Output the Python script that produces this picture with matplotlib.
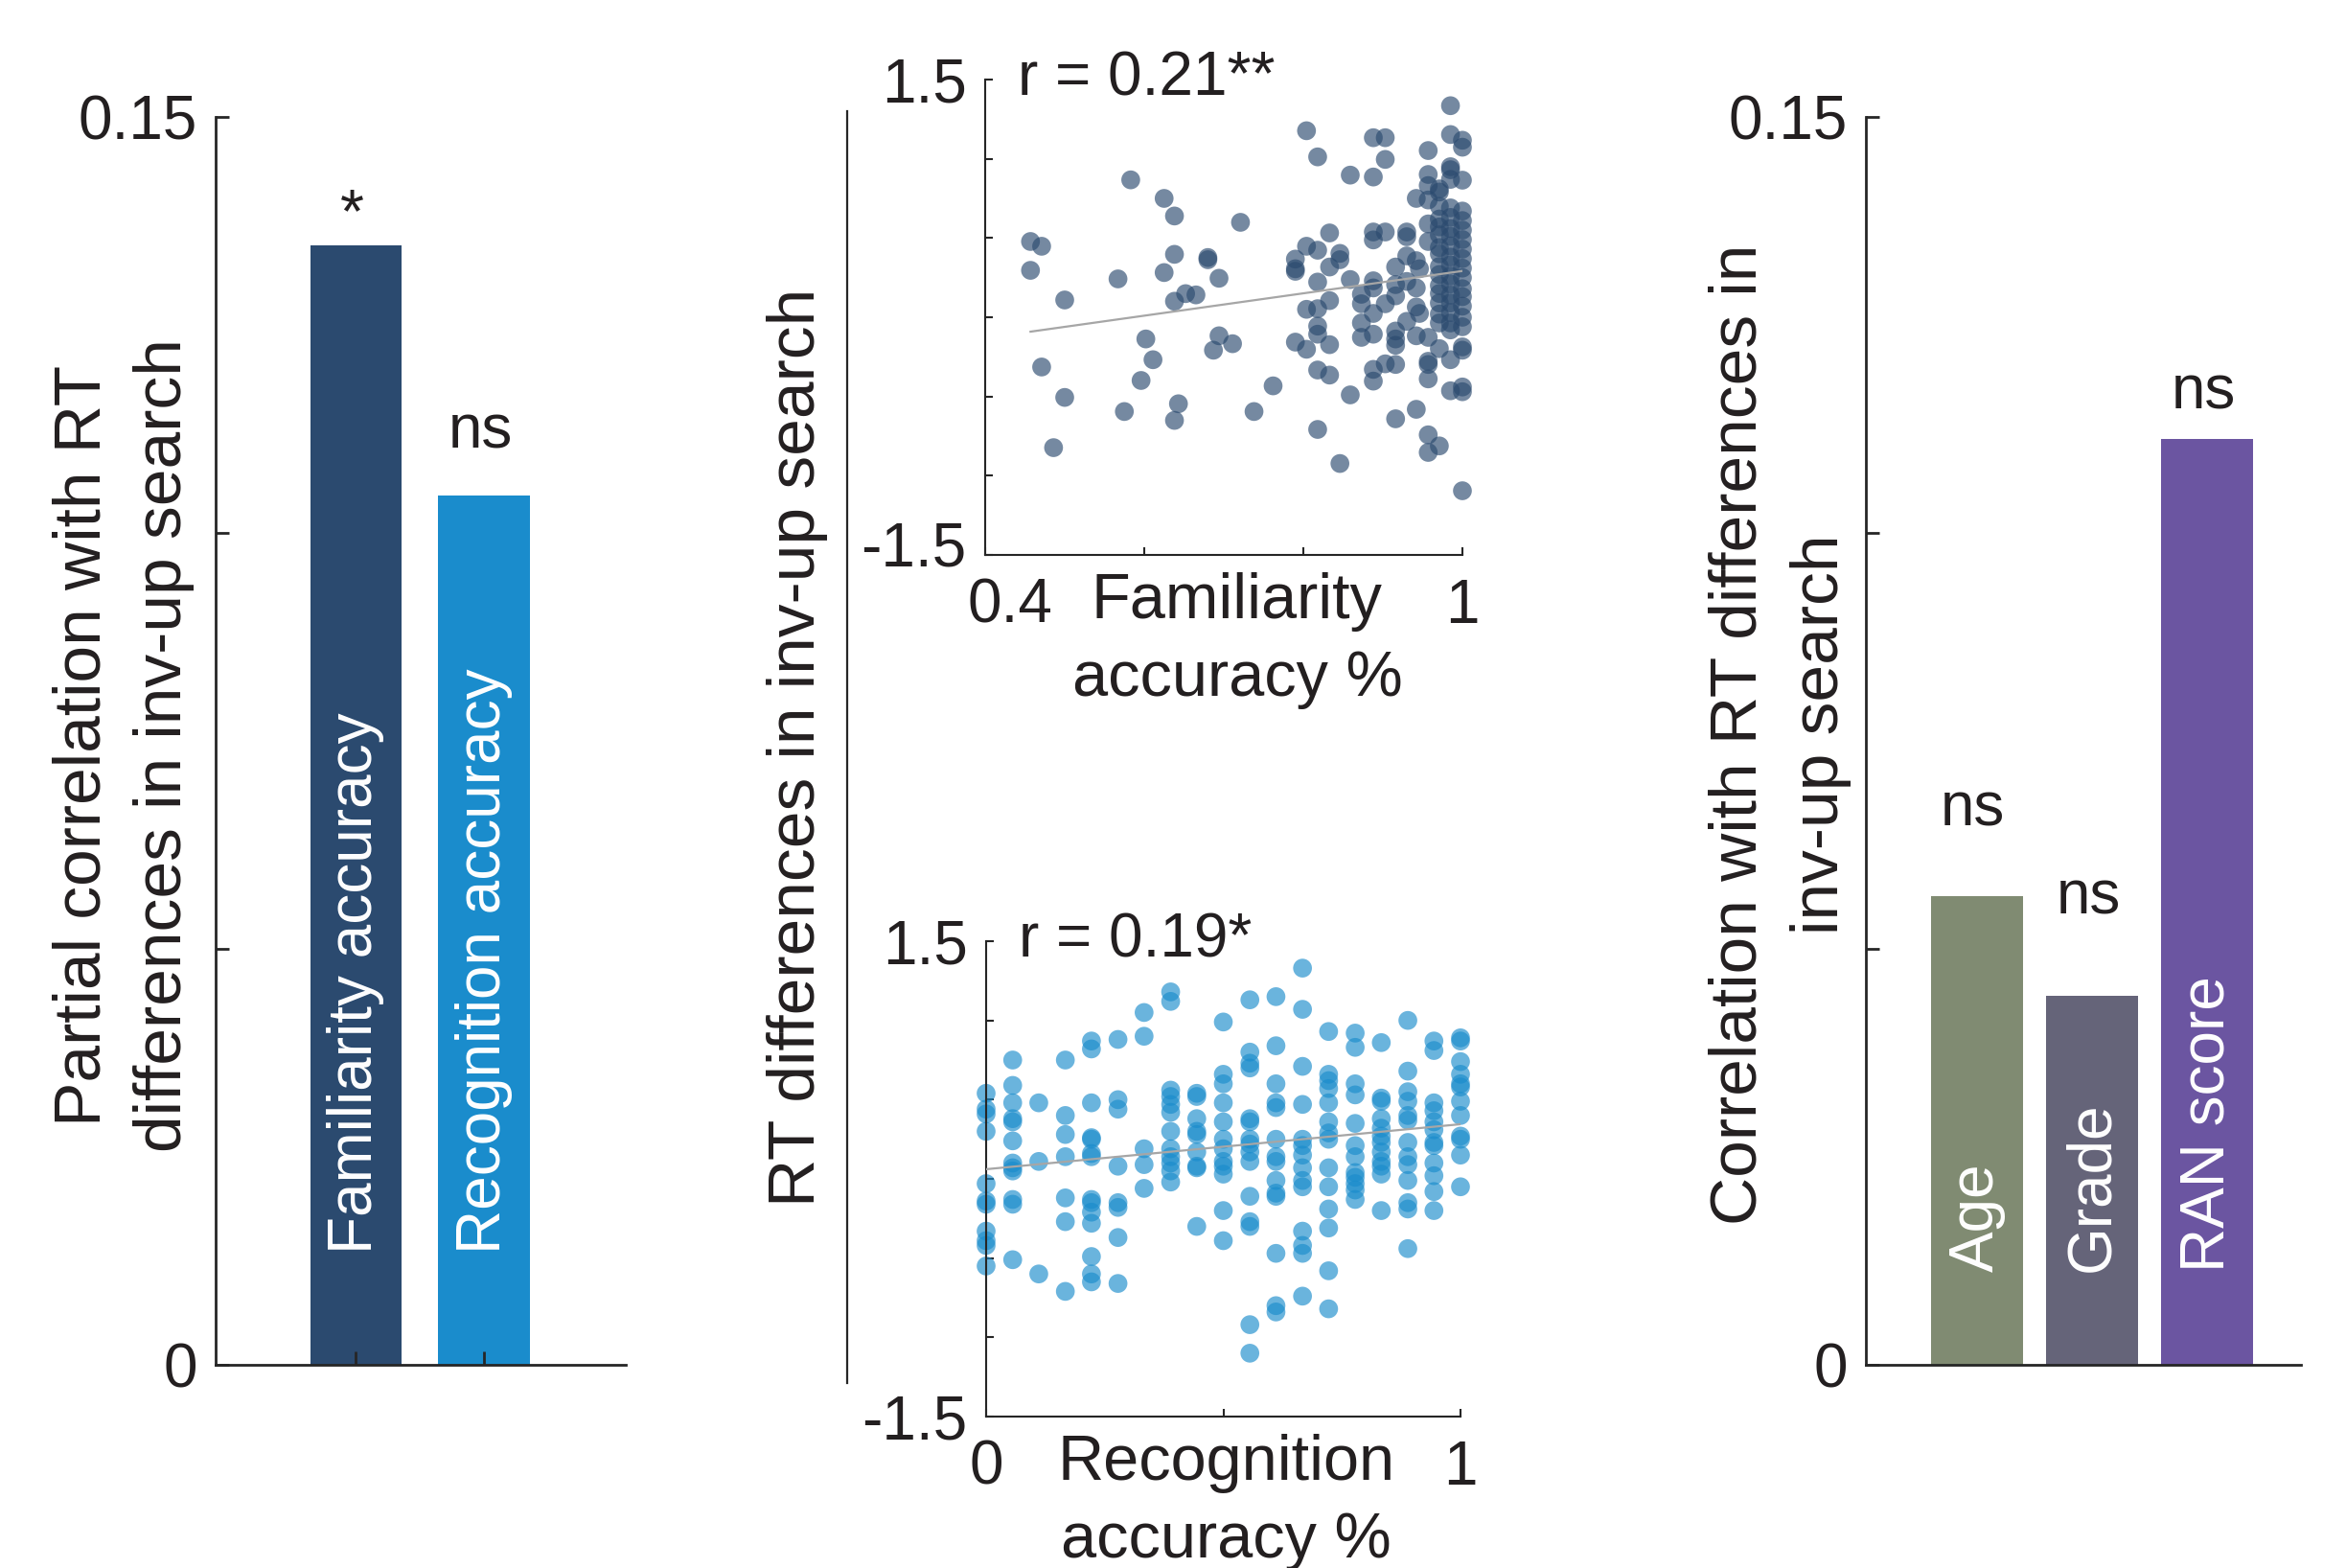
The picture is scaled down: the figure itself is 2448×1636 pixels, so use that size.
import numpy as np
import matplotlib.pyplot as plt
from matplotlib.transforms import ScaledTranslation

plt.rcParams['font.family'] = ['Liberation Sans', 'DejaVu Sans']
plt.rcParams['text.color'] = '#231f20'

# bar panels
acc_labels = ['Familiarity accuracy', 'Recognition accuracy']
acc_values = [0.1346, 0.1045]
acc_sig = ['*', 'ns']
acc_colors = ['#2b4a6f', '#1a8ccc']

demo_labels = ['Age', 'Grade', 'RAN score']
demo_values = [0.0563, 0.0444, 0.1113]
demo_sig = ['ns', 'ns', 'ns']
demo_colors = ['#808b72', '#656479', '#6b55a1']

# familiarity accuracy vs RT difference
fam_x = [0.457, 0.471, 0.457, 0.500, 0.471, 0.500, 0.486, 0.583, 0.625, 0.638,
         0.721, 0.638, 0.680, 0.680, 0.625, 0.567, 0.694, 0.652, 0.665, 0.638,
         0.602, 0.694, 0.711, 0.687, 0.611, 0.596, 0.643, 0.575, 0.638, 0.738,
         0.762,
         0.804, 0.818, 0.859, 0.833, 0.804, 0.818, 0.790, 0.790, 0.790, 0.846,
         0.846, 0.833, 0.818, 0.859, 0.804, 0.818, 0.833, 0.818, 0.818, 0.790,
         0.804, 0.833, 0.818, 0.833, 0.859, 0.818, 0.846,
         0.888, 0.903, 0.903, 0.888, 0.888, 0.888, 0.903, 0.930, 0.930, 0.957,
         0.957, 0.985, 0.985, 1.000, 1.000, 0.985, 1.000, 0.942, 0.957, 0.957,
         0.971, 0.957, 0.957, 0.916, 0.930, 0.942, 0.946, 0.888, 0.888, 0.873,
         0.873, 0.903, 0.916, 0.916, 0.930, 0.942, 0.942, 0.946, 0.930, 0.888,
         0.873, 0.873, 0.888, 0.916, 0.916, 0.916, 0.942, 0.957, 0.971, 0.985,
         0.957, 0.957, 0.957, 0.903, 0.916, 0.888, 0.888, 0.916, 0.942, 0.957,
         0.971, 0.957, 0.985, 1.000, 1.000, 1.000, 1.000, 1.000, 0.985, 0.971,
         0.971, 0.971, 0.971, 0.971, 0.971, 0.971, 0.971, 0.971, 0.971, 0.971,
         0.971, 0.971, 0.971,
         0.985, 0.985, 0.985, 0.985, 0.985, 0.985, 0.985, 0.985, 0.985, 0.985,
         0.985, 0.985, 0.985, 0.985, 0.985,
         1.000, 1.000, 1.000, 1.000, 1.000, 1.000, 1.000, 1.000, 1.000, 1.000,
         1.000, 1.000, 1.000]
fam_y = [0.478, 0.448, 0.296, 0.109, -0.314, -0.506, -0.823, 0.867, 0.750, 0.639,
         0.599, 0.397, 0.377, 0.363, 0.282, 0.242, 0.246, 0.149, 0.141, 0.101,
         -0.137, -0.117, -0.167, -0.208, -0.268, -0.399, -0.546, -0.595, -0.651, -0.595,
         -0.433,
         1.177, 1.012, 0.897, 0.532, 0.448, 0.423, 0.367, 0.306, 0.290, 0.403,
         0.363, 0.317, 0.222, 0.238, 0.050, 0.054, 0.105, -0.056, -0.107, -0.157,
         -0.202, -0.173, -0.333, -0.365, -0.490, -0.708, -0.923,
         1.133, 1.133, 0.996, 0.885, 0.538, 0.488, 0.538, 0.538, 0.508, 1.052,
         0.901, 1.335, 1.153, 1.117, 1.073, 0.931, 0.865, 0.750, 0.831, 0.740,
         0.810, 0.589, 0.478, 0.317, 0.387, 0.357, 0.306, 0.230, 0.185, 0.145,
         0.085, 0.085, 0.135, 0.206, 0.226, 0.185, 0.065, 0.024, -0.026, 0.024,
         -0.036, -0.127, -0.107, -0.087, -0.137, -0.177, -0.117, -0.127, -0.198, -0.268,
         -0.278, -0.298, -0.389, -0.294, -0.298, -0.329, -0.403, -0.641, -0.581, -0.742,
         -0.812, -0.853, -0.464, -0.440, -0.470, -1.095, -0.187, -0.208, -0.036, -0.036,
         0.79, 0.70, 0.62, 0.57, 0.52, 0.44, 0.40, 0.32, 0.27, 0.20,
         0.15, 0.09, 0.02,
         0.95, 0.87, 0.69, 0.63, 0.56, 0.51, 0.45, 0.38, 0.33, 0.26,
         0.21, 0.14, 0.09, 0.03, -0.08,
         0.67, 0.61, 0.55, 0.49, 0.43, 0.37, 0.31, 0.25, 0.18, 0.13,
         0.07, 0.00, -0.06]
fam_fit_x = [0.457, 1.0]
fam_fit_y = [-0.091, 0.292]

# recognition accuracy vs RT difference (discrete accuracy levels)
rec_levels = [0.000, 0.056, 0.111, 0.167, 0.222, 0.278, 0.333, 0.389, 0.444, 0.500,
              0.556, 0.611, 0.667, 0.722, 0.778, 0.833, 0.889, 0.944, 1.000]
rec_y_by_level = [
    [0.54, 0.44, 0.41, 0.30, -0.03, -0.14, -0.16, -0.33, -0.39, -0.42, -0.55],
    [0.75, 0.59, 0.48, 0.38, 0.36, 0.24, 0.10, 0.07, 0.05, -0.13, -0.16, -0.51],
    [0.48, 0.11, -0.60],
    [0.75, 0.40, 0.28, 0.14, -0.12, -0.27, -0.71],
    [0.87, 0.82, 0.48, 0.26, 0.25, 0.16, 0.14, -0.13, -0.15, -0.21, -0.28, -0.49, -0.60, -0.65],
    [0.88, 0.50, 0.44, 0.08, -0.15, -0.18, -0.37, -0.66],
    [1.05, 0.90, 0.19, 0.09, -0.06],
    [1.18, 1.12, 0.56, 0.52, 0.47, 0.42, 0.30, 0.19, 0.14, 0.10, 0.05, -0.02],
    [0.54, 0.52, 0.38, 0.30, 0.28, 0.17, 0.08, 0.07, -0.30],
    [0.99, 0.66, 0.60, 0.48, 0.36, 0.25, 0.19, 0.11, 0.08, 0.03, -0.20, -0.39],
    [1.13, 0.80, 0.73, 0.70, 0.38, 0.36, 0.25, 0.22, 0.17, 0.11, -0.11, -0.27, -0.30, -0.92, -1.10],
    [1.15, 0.84, 0.60, 0.48, 0.45, 0.25, 0.14, 0.11, -0.01, -0.09, -0.11, -0.47, -0.80, -0.84],
    [1.33, 1.07, 0.71, 0.47, 0.25, 0.21, 0.15, 0.07, -0.01, -0.05, -0.33, -0.42, -0.47, -0.74],
    [0.93, 0.66, 0.62, 0.57, 0.48, 0.36, 0.29, 0.25, 0.07, -0.05, -0.19, -0.31, -0.58, -0.82],
    [0.92, 0.83, 0.60, 0.53, 0.35, 0.21, 0.14, 0.04, 0.01, -0.03, -0.07, -0.13],
    [0.86, 0.51, 0.49, 0.38, 0.32, 0.27, 0.23, 0.17, 0.11, 0.08, 0.03, -0.20],
    [1.00, 0.68, 0.55, 0.49, 0.40, 0.37, 0.23, 0.14, 0.09, -0.01, -0.15, -0.19, -0.44],
    [0.87, 0.81, 0.48, 0.43, 0.36, 0.31, 0.23, 0.21, 0.10, 0.02, -0.08, -0.20],
    [0.89, 0.87, 0.74, 0.66, 0.60, 0.58, 0.49, 0.40, 0.27, 0.25, 0.15, -0.05],
]
rec_fit_x = [0.0, 1.0]
rec_fit_y = [0.061, 0.345]

axis_col = '#262626'
fs_tick = 46
fs_label = 50
fs_xlab = 48

W, H = 2448, 1636
fig = plt.figure(figsize=(W / 100, H / 100), dpi=100)


def box(x0, y_top, x1, y_bot):
    return [x0 / W, 1 - y_bot / H, (x1 - x0) / W, (y_bot - y_top) / H]


def style(ax, lw, tick_len):
    for s in ['top', 'right']:
        ax.spines[s].set_visible(False)
    for s in ['left', 'bottom']:
        ax.spines[s].set_linewidth(lw)
        ax.spines[s].set_color(axis_col)
    ax.tick_params(direction='in', length=tick_len, width=lw, colors=axis_col,
                   labelcolor='#231f20', labelsize=fs_tick, pad=14)


def bar_panel(ax, values, labels, sig, colors, width, xlim, lab_off, sig_off):
    pos = np.arange(1, len(values) + 1)
    ax.bar(pos, values, width=width, color=colors, zorder=1)
    ax.set_xlim(*xlim)
    ax.set_ylim(0, 0.15)
    ax.set_yticks([0, 0.05, 0.10, 0.15])
    ax.set_yticklabels(['0', '', '', '0.15'])
    for p, v, lab, s, so in zip(pos, values, labels, sig, sig_off):
        ax.annotate(lab, xy=(p, 0), xytext=(0, lab_off), textcoords='offset pixels',
                    rotation=90, ha='center', va='bottom', color='white',
                    fontsize=fs_tick)
        ax.annotate(s, xy=(p, v), xytext=(-4, so), textcoords='offset pixels',
                    ha='center', va='baseline', fontsize=fs_tick)
    return pos


# left: partial correlations
ax1 = fig.add_axes(box(225, 122, 653, 1424))
style(ax1, 2.0, 10)
p1 = bar_panel(ax1, acc_values, acc_labels, acc_sig, acc_colors, 0.714,
               (-0.097, 3.109), 116, [14, 49])
ax1.set_xticks(p1)
ax1.set_xticklabels([])
fig.text(129 / W, 1 - 778 / H, 'Partial correlation with RT\ndifferences in inv-up search',
         rotation=90, ha='center', va='center', fontsize=fs_label,
         linespacing=1.42, multialignment='center')

# right: correlations with demographics
ax3 = fig.add_axes(box(1947, 122, 2401, 1424))
style(ax3, 2.0, 10)
bar_panel(ax3, demo_values, demo_labels, demo_sig, demo_colors, 0.80,
          (0.035, 3.815), 97, [74, 85, 31])
ax3.set_xticks([])
fig.text(1857 / W, 1 - 766 / H, 'Correlation with RT differences in\ninv-up search',
         rotation=90, ha='center', va='center', fontsize=fs_label,
         linespacing=1.42, multialignment='center')

# shared y label for the two scatter plots
axm = fig.add_axes(box(884, 116, 885, 1443))
axm.patch.set_visible(False)
for s in ['top', 'right', 'bottom']:
    axm.spines[s].set_visible(False)
axm.spines['left'].set_linewidth(1.6)
axm.spines['left'].set_color(axis_col)
axm.set_xticks([])
axm.set_yticks([])
fig.text(832 / W, 1 - 780 / H, 'RT differences in inv-up search', rotation=90,
         ha='center', va='center', fontsize=fs_label)


def scatter_panel(ax, x, y, color, fit_x, fit_y, xticks, xticklabels, rtext, xlab, xlab_x):
    style(ax, 1.5, 6)
    ax.scatter(x, y, s=200, color=color, alpha=0.65, edgecolors='none',
               clip_on=False, zorder=2)
    ax.plot(fit_x, fit_y, color='#a6a6a6', lw=1.6, zorder=3)
    ax.set_xlim(xticks[0], xticks[-1])
    ax.set_ylim(-1.5, 1.5)
    ax.set_xticks(xticks)
    ax.set_xticklabels(xticklabels)
    ax.set_yticks([-1.5, -1.0, -0.5, 0, 0.5, 1.0, 1.5])
    ax.set_yticklabels(['-1.5', '', '', '', '', '', '1.5'])
    ax.tick_params(axis='x', pad=17)
    ax.text(0.068, 0.966, rtext, transform=ax.transAxes, ha='left', va='baseline',
            fontsize=fs_tick)
    ax.text(xlab_x, -0.036, xlab, transform=ax.transAxes, ha='center', va='top',
            fontsize=fs_xlab, linespacing=1.4)


axt = fig.add_axes(box(1028, 83, 1526, 579))
scatter_panel(axt, fam_x, fam_y, '#2b4a6f', fam_fit_x, fam_fit_y,
              [0.4, 0.6, 0.8, 1.0], ['0.4', '', '', '1'], 'r = 0.21**',
              'Familiarity\naccuracy %', 0.528)
lab0 = axt.xaxis.get_major_ticks()[0].label1
lab0.set_transform(lab0.get_transform() + ScaledTranslation(0.26, 0, fig.dpi_scale_trans))
ylab0 = axt.yaxis.get_major_ticks()[0].label1
ylab0.set_transform(ylab0.get_transform() + ScaledTranslation(0, 0.12, fig.dpi_scale_trans))

rec_x = np.concatenate([[lv] * len(ys) for lv, ys in zip(rec_levels, rec_y_by_level)])
rec_y = np.concatenate(rec_y_by_level)
axb = fig.add_axes(box(1029, 982, 1524, 1478))
scatter_panel(axb, rec_x, rec_y, '#1a8ccc', rec_fit_x, rec_fit_y,
              [0.0, 0.5, 1.0], ['0', '', '1'], 'r = 0.19*',
              'Recognition\naccuracy %', 0.506)

fig.savefig('out.png', dpi=100, facecolor='white')
